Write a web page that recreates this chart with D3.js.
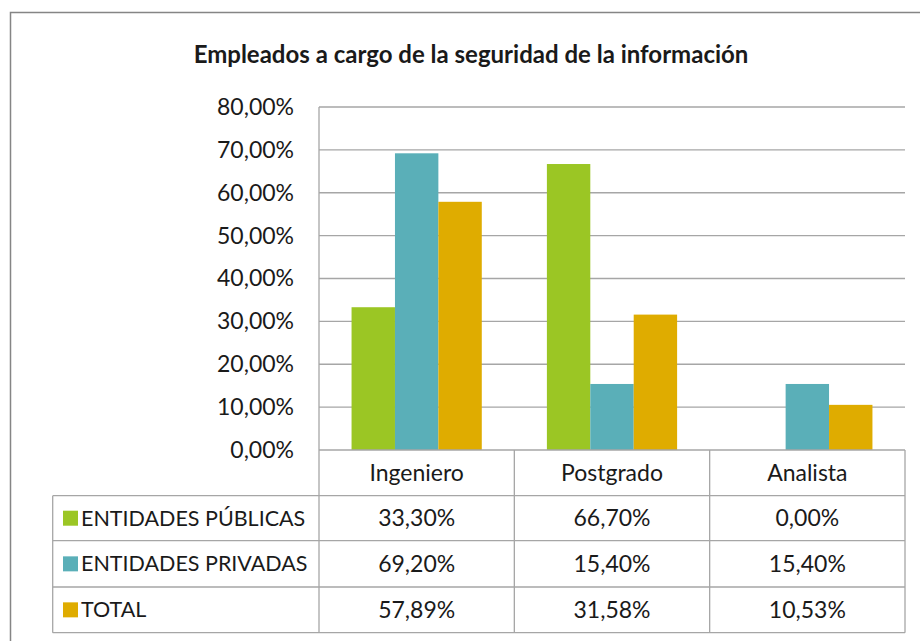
<!DOCTYPE html>
<html>
<head>
<meta charset="utf-8">
<script src="https://cdn.jsdelivr.net/npm/d3@7"></script>
<style>
  html, body { margin: 0; padding: 0; background: #fff; }
  svg { display: block; }
  text { font-family: Lato, "Open Sans", sans-serif; fill: #1a1a1a; }
</style>
</head>
<body>
<svg id="canvas" width="920" height="641"></svg>
<script>
// datos del grafico
const titulo = "Empleados a cargo de la seguridad de la información"
const categorias = ["Ingeniero", "Postgrado", "Analista"]
const series = ["ENTIDADES PÚBLICAS", "ENTIDADES PRIVADAS", "TOTAL"]
const publicas = [33.30, 66.70, 0.00]
const privadas = [69.20, 15.40, 15.40]
const total = [57.89, 31.58, 10.53]
const ticksY = [0, 10, 20, 30, 40, 50, 60, 70, 80]
const colores = ["#9bc624", "#5aafb8", "#dfac00"]

const valores = [publicas, privadas, total]
const fmt = v => d3.format(".2f")(v).replace(".", ",") + "%"

const svg = d3.select("#canvas")
const gris = "#a6a6a6"

// marco exterior (se sale por la derecha y abajo)
svg.append("rect")
    .attr("x", 10.5).attr("y", 12.5)
    .attr("width", 950).attr("height", 700)
    .attr("fill", "none").attr("stroke", "#858585").attr("stroke-width", 1.5)

svg.append("text")
    .attr("x", 471).attr("y", 63)
    .attr("text-anchor", "middle")
    .style("font-size", "24px").style("font-weight", "bold")
    .text(titulo)

// escalas
const x0 = d3.scaleBand().domain(categorias).range([319, 905]).padding(0)
const x1 = d3.scaleBand().domain(series).range([0, x0.bandwidth()])
    .paddingInner(0).paddingOuter(0.75)
const y = d3.scaleLinear().domain([0, 80]).range([450, 107])

// lineas de cuadricula
svg.append("g")
    .selectAll("line")
    .data(ticksY.slice(1))
    .enter()
    .append("line")
    .attr("x1", 319).attr("x2", 905)
    .attr("y1", d => y(d)).attr("y2", d => y(d))
    .attr("stroke", gris).attr("stroke-width", 1.3)

// barras
const grupos = svg.append("g")
    .selectAll("g")
    .data(categorias)
    .enter()
    .append("g")
    .attr("transform", d => `translate(${x0(d)},0)`)

grupos.selectAll("rect")
    .data((c, i) => series.map((s, j) => ({ s: s, v: valores[j][i], j: j })))
    .enter()
    .append("rect")
    .attr("x", d => x1(d.s))
    .attr("width", x1.bandwidth())
    .attr("y", d => y(d.v))
    .attr("height", d => y(0) - y(d.v))
    .attr("fill", d => colores[d.j])

// eje y (etiquetas)
const ejeY = d3.axisLeft(y).tickValues(ticksY).tickSize(0).tickPadding(25)
    .tickFormat(d => fmt(d))
const gy = svg.append("g").attr("transform", "translate(319,0)").call(ejeY)
gy.select(".domain").remove()
gy.selectAll("text")
    .style("font-size", "23px")
    .style("font-family", "Lato, 'Open Sans', sans-serif")
    .attr("fill", "#1a1a1a")

// tabla de datos
const filaTop = [450, 495.7, 540.7, 587, 632.7]
const izqTabla = 52.7

const lineas = svg.append("g").attr("stroke", gris).attr("stroke-width", 1.3)
// eje x / primera fila
lineas.append("line").attr("x1", 319).attr("x2", 905).attr("y1", 450).attr("y2", 450)
filaTop.slice(1).forEach(yy => {
    lineas.append("line").attr("x1", izqTabla).attr("x2", 905).attr("y1", yy).attr("y2", yy)
})
lineas.append("line").attr("x1", 319).attr("x2", 319).attr("y1", 107).attr("y2", 632.7)
lineas.append("line").attr("x1", izqTabla).attr("x2", izqTabla).attr("y1", 495.7).attr("y2", 632.7)
categorias.forEach(c => {
    const xr = x0(c) + x0.bandwidth()
    lineas.append("line").attr("x1", xr).attr("x2", xr).attr("y1", 450).attr("y2", 632.7)
})

// cabecera de categorias
svg.append("g")
    .selectAll("text")
    .data(categorias)
    .enter()
    .append("text")
    .attr("x", d => x0(d) + x0.bandwidth() / 2)
    .attr("y", (filaTop[0] + filaTop[1]) / 2)
    .attr("dy", "0.35em")
    .attr("text-anchor", "middle")
    .style("font-size", "23px")
    .text(d => d)

// filas de la tabla
series.forEach((s, j) => {
    const yc = (filaTop[j + 1] + filaTop[j + 2]) / 2
    svg.append("rect")
        .attr("x", 63).attr("y", yc - 7.5)
        .attr("width", 15).attr("height", 15)
        .attr("fill", colores[j])
    svg.append("text")
        .attr("x", 81).attr("y", yc).attr("dy", "0.35em")
        .style("font-size", "21.5px")
        .text(s)
    categorias.forEach((c, i) => {
        svg.append("text")
            .attr("x", x0(c) + x0.bandwidth() / 2)
            .attr("y", yc).attr("dy", "0.35em")
            .attr("text-anchor", "middle")
            .style("font-size", "23px")
            .text(fmt(valores[j][i]))
    })
})
</script>
</body>
</html>
